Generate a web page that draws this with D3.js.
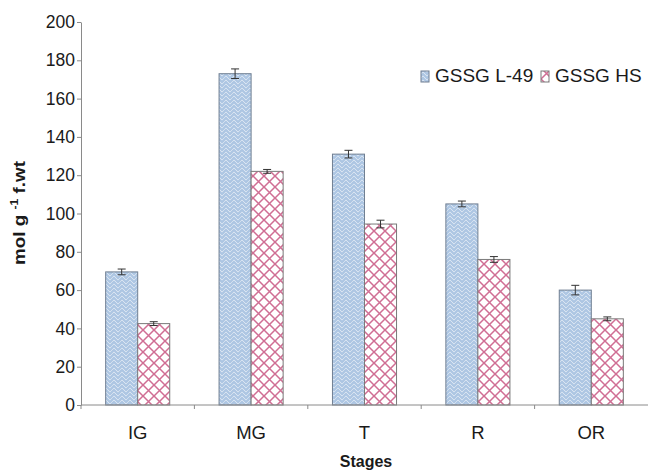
<!DOCTYPE html>
<html>
<head>
<meta charset="utf-8">
<script src="https://cdn.jsdelivr.net/npm/d3@7"></script>
<style>
  body { margin: 0; background: #fff; }
  svg { display: block; }
  text { font-family: "Liberation Sans", Arial, sans-serif; fill: #1a1a1a; }
</style>
</head>
<body>
<svg id="chart" width="649" height="472"></svg>
<script>
// GSSG content at each developmental stage for the two cultivars
const stages = ["IG", "MG", "T", "R", "OR"];
const seriesNames = ["GSSG L-49", "GSSG HS"];
const l49Values = [69.5, 173, 131, 105, 60];
const l49Errors = [1.5, 2.5, 2, 1.5, 2.5];
const hsValues = [42.5, 122, 94.5, 76, 45];
const hsErrors = [1, 1, 2, 1.5, 1];
const yTicks = [0, 20, 40, 60, 80, 100, 120, 140, 160, 180, 200];

const svg = d3.select("#chart");
const margin = { left: 81, right: 1, top: 22, bottom: 67 };
const W = 649, H = 472;

const x0 = d3.scaleBand().domain(stages).range([margin.left, W - margin.right]).paddingInner(0.435).paddingOuter(0.2175);
const x1 = d3.scaleBand().domain(seriesNames).range([0, x0.bandwidth()]);
const y = d3.scaleLinear().domain([0, 200]).range([H - margin.bottom, margin.top]);

// Fill patterns
const defs = svg.append("defs");
const pBlue = defs.append("pattern").attr("id", "patBlue").attr("patternUnits", "userSpaceOnUse")
  .attr("width", 8).attr("height", 8);
pBlue.append("rect").attr("width", 8).attr("height", 8).attr("fill", "#ffffff");
pBlue.append("path").attr("d", "M-1,5 L2,2 L6,6 L9,3 M-1,9 L2,6 L6,10 L9,7 M-1,1 L2,-2 L6,2 L9,-1")
  .attr("fill", "none").attr("stroke", "#adc6e3").attr("stroke-width", 2.3);

const pPink = defs.append("pattern").attr("id", "patPink").attr("patternUnits", "userSpaceOnUse")
  .attr("width", 11).attr("height", 11);
pPink.append("rect").attr("width", 11).attr("height", 11).attr("fill", "#ffffff");
pPink.append("path").attr("d", "M0,0 L11,11 M11,0 L0,11")
  .attr("fill", "none").attr("stroke", "#d06e94").attr("stroke-width", 1.5);

const series = [
  { name: seriesNames[0], values: l49Values, errors: l49Errors, fill: "url(#patBlue)", stroke: "#707f92" },
  { name: seriesNames[1], values: hsValues, errors: hsErrors, fill: "url(#patPink)", stroke: "#7a7a7a" }
];

// Bars
series.forEach(s => {
  const g = svg.append("g");
  stages.forEach((st, i) => {
    const bx = x0(st) + x1(s.name);
    g.append("rect")
      .attr("x", bx).attr("y", y(s.values[i]))
      .attr("width", x1.bandwidth()).attr("height", y(0) - y(s.values[i]))
      .attr("fill", s.fill).attr("stroke", s.stroke).attr("stroke-width", 1);
    // Error bar
    const cx = bx + x1.bandwidth() / 2;
    const top = y(s.values[i] + s.errors[i]), bot = y(s.values[i] - s.errors[i]);
    g.append("line").attr("x1", cx).attr("x2", cx).attr("y1", top).attr("y2", bot)
      .attr("stroke", "#333").attr("stroke-width", 1);
    [top, bot].forEach(yy => g.append("line").attr("x1", cx - 4).attr("x2", cx + 4)
      .attr("y1", yy).attr("y2", yy).attr("stroke", "#333").attr("stroke-width", 1));
  });
});

// Y axis
const yAxis = svg.append("g").attr("transform", `translate(${margin.left},0)`)
  .call(d3.axisLeft(y).tickValues(yTicks).tickSize(4).tickPadding(2).tickSizeOuter(0));
yAxis.select(".domain").attr("stroke", "#8a8a8a");
yAxis.selectAll(".tick line").attr("stroke", "#8a8a8a");
yAxis.selectAll(".tick text").style("font-size", "17.5px").attr("fill", "#1a1a1a");

// X axis with ticks between categories
const xAxisG = svg.append("g").attr("transform", `translate(0,${y(0)})`);
xAxisG.append("line").attr("x1", margin.left).attr("x2", W - margin.right)
  .attr("y1", 0).attr("y2", 0).attr("stroke", "#8a8a8a");
const step = x0.step();
stages.forEach((st, i) => {
  const bx = x0(st) - x0.paddingOuter() * step;
  xAxisG.append("line").attr("x1", bx).attr("x2", bx).attr("y1", 0).attr("y2", 4)
    .attr("stroke", "#8a8a8a");
  xAxisG.append("text").attr("x", x0(st) + x0.bandwidth() / 2).attr("y", 34)
    .attr("text-anchor", "middle").style("font-size", "18.5px").text(st);
});

// Axis titles
svg.append("text").attr("x", 366).attr("y", 467).attr("text-anchor", "middle")
  .style("font-size", "16px").style("font-weight", "bold").text("Stages");

const yl = svg.append("text").attr("transform", "translate(25,213) rotate(-90)")
  .attr("text-anchor", "middle").style("font-size", "17px").style("font-weight", "bold")
  .attr("textLength", 104).attr("lengthAdjust", "spacingAndGlyphs");
yl.append("tspan").text("mol g ");
yl.append("tspan").attr("dy", -7).style("font-size", "11px").text("-1");
yl.append("tspan").attr("dy", 7).text(" f.wt");

// Legend
const legend = svg.append("g").attr("transform", "translate(421,68)");
const legX = [0, 120];
series.forEach((s, i) => {
  const lg = legend.append("g").attr("transform", `translate(${legX[i]},0)`);
  lg.append("rect").attr("x", 0).attr("y", 3).attr("width", 8).attr("height", 11)
    .attr("fill", s.fill).attr("stroke", s.stroke).attr("stroke-width", 1);
  lg.append("text").attr("x", 14).attr("y", 14).style("font-size", "19px").text(s.name);
});
</script>
</body>
</html>
